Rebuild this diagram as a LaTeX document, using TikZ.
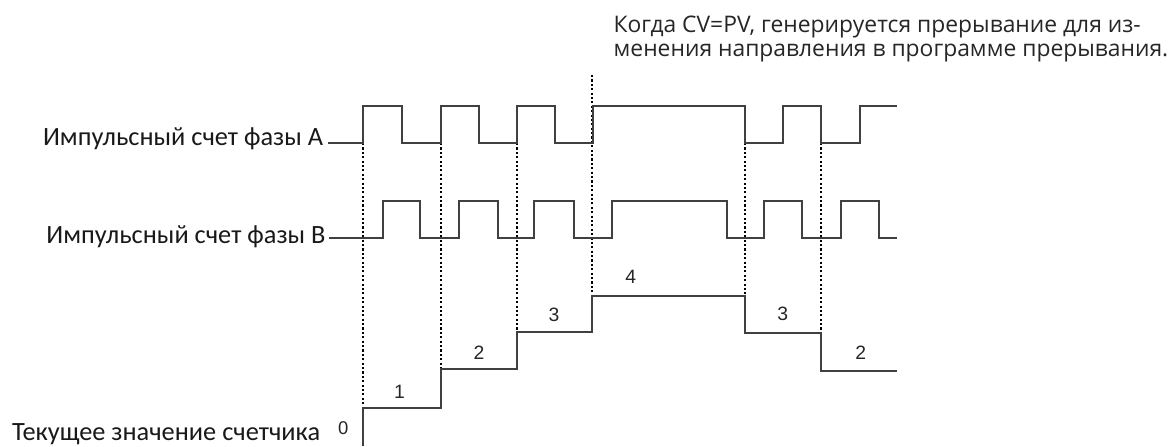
\documentclass[tikz,border=0pt]{standalone}
\usepackage{fontspec}
\setmainfont{Carlito}
\newfontfamily\notefont{Open Sans}
\newfontfamily\digitfont{Liberation Sans}
\tikzset{
  wave/.style={draw=black!75,line width=0.7pt},
  marker/.style={draw=black,line width=1.3pt,dash pattern=on 1.2pt off 1.3pt},
  sigtext/.style={font=\fontsize{15}{18}\selectfont,inner sep=0pt,text=black!90},
  cnttext/.style={font=\digitfont\fontsize{11}{13}\selectfont,inner sep=0pt,text=black!85},
  notetext/.style={font=\notefont\fontsize{13}{13.7}\selectfont,inner sep=0pt,text=black!85,align=left},
}
\begin{document}
\begin{tikzpicture}[x=0.02cm,y=-0.02cm]
\useasboundingbox (0,0) rectangle (1172,446);
% signal names
\node[sigtext,anchor=base west] (phaseA) at (42.7,145) {Импульсный счет фазы A};
\node[sigtext,anchor=base west] (phaseB) at (46,243.3) {Импульсный счет фазы B};
\node[sigtext,anchor=base west] (counter) at (11.7,440) {Текущее значение счетчика};
\node[notetext,anchor=north west] (note) at (613.3,16) {Когда CV=PV, генерируется прерывание для из-\\менения направления в программе прерывания.};
% sampling instants
\draw[marker] (363,143) -- (363,408);
\draw[marker] (441,143) -- (441,369);
\draw[marker] (517,143) -- (517,332);
\draw[marker] (592,75) -- (592,296);
\draw[marker] (745,143) -- (745,333);
\draw[marker] (821,143) -- (821,333);
% phase A
\draw[wave] (328,143) -| (363,106) -| (402,143) -| (441,106) -| (479,143) -| (517,106)
  -| (555,143) -| (593,106) -| (745,143) -| (783,106) -| (821,143) -| (860,106) -- (897,106);
% phase B
\draw[wave] (329,238) -| (383,201) -| (420,238) -| (459,201) -| (498,238) -| (534,201)
  -| (574,238) -| (612,201) -| (727,238) -| (764,201) -| (802,238) -| (841,201) -| (879,238) -- (897,238);
% counter value
\draw[wave] (363,446) |- (441,408) |- (517,369) |- (592,332) |- (745,296) |- (821,333) |- (897,371);
\node[cnttext,font=\digitfont\fontsize{10.5}{12}\selectfont] (cv0) at (343.3,428.3) {0};
\node[cnttext] (cv1) at (399.5,391.7) {1};
\node[cnttext] (cv2) at (479,353) {2};
\node[cnttext] (cv3) at (554,315) {3};
\node[cnttext] (cv4) at (630.7,276.7) {4};
\node[cnttext] (cv3b) at (782.7,314.3) {3};
\node[cnttext] (cv2b) at (860.7,352.3) {2};
\end{tikzpicture}
\end{document}
